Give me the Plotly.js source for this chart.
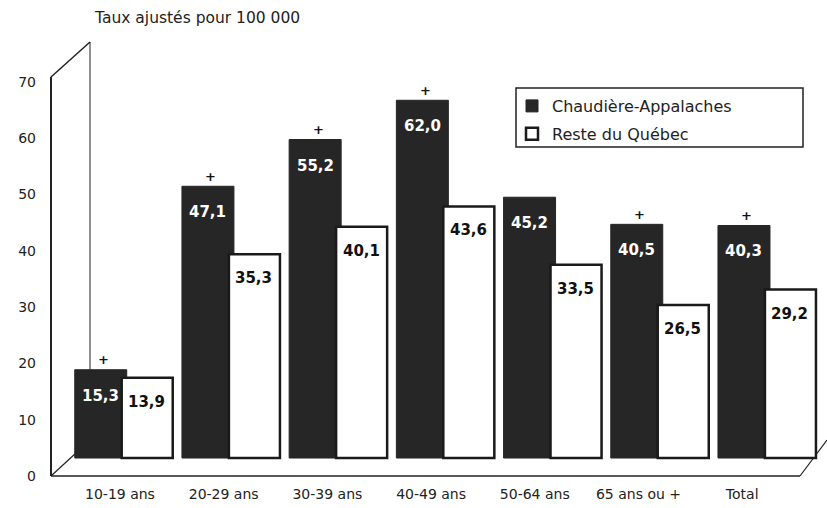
<!DOCTYPE html>
<html>
<head>
<meta charset="utf-8">
<script src="https://cdn.plot.ly/plotly-3.0.1.min.js"></script>
<style>html,body{margin:0;padding:0;background:#fff;}#chart{width:827px;height:508px;}</style>
</head>
<body>
<div id="chart"></div>
<script>
// ---- data ----
var categories = ["10-19 ans", "20-29 ans", "30-39 ans", "40-49 ans", "50-64 ans", "65 ans ou +", "Total"];
var chaudiereAppalaches = [15.3, 47.1, 55.2, 62.0, 45.2, 40.5, 40.3];
var resteQuebec = [13.9, 35.3, 40.1, 43.6, 33.5, 26.5, 29.2];
var significant = [true, true, true, true, false, true, true];
var seriesNames = ["Chaudière-Appalaches", "Reste du Québec"];
var yTicks = [0, 10, 20, 30, 40, 50, 60, 70];
var yTitle = "Taux ajustés pour 100 000";

// ---- geometry helpers (layout only) ----
var L = 51, R = 827, T = 42, B = 480, W = 827, H = 508;
function px(x) { return (x - L) / (R - L); }
function py(y) { return (B - y) / (B - T); }
function fmt(v) { return v.toFixed(1).replace('.', ','); }

var FONT = "DejaVu Sans, Liberation Sans, Arial, sans-serif";
var DARK = "#262626";

var traces = [
  {
    type: "bar", name: seriesNames[0], x: categories, y: chaudiereAppalaches,
    offset: -0.466, width: 0.485, legendgroup: "a",
    marker: { color: DARK, line: { color: DARK, width: 1 } },
    hoverinfo: "skip"
  },
  {
    type: "bar", name: seriesNames[1], x: categories, y: resteQuebec,
    offset: -0.028, width: 0.476, legendgroup: "b",
    marker: { color: "#ffffff", line: { color: "#1a1a1a", width: 2.5 } },
    hoverinfo: "skip"
  },
  // invisible trace carrying the front tick labels on xaxis2 / yaxis2
  {
    type: "scatter", x: categories, y: chaudiereAppalaches.map(function(){return null;}),
    xaxis: "x2", yaxis: "y2", showlegend: false, hoverinfo: "skip", mode: "markers"
  }
];

var annotations = [];
categories.forEach(function (c, i) {
  annotations.push({
    x: c, y: chaudiereAppalaches[i], xref: "x", yref: "y",
    text: "<b>" + fmt(chaudiereAppalaches[i]) + "</b>", showarrow: false,
    xshift: -24, yshift: -26, font: { family: FONT, size: 15, color: "#ffffff" }
  });
  annotations.push({
    x: c, y: resteQuebec[i], xref: "x", yref: "y",
    text: "<b>" + fmt(resteQuebec[i]) + "</b>", showarrow: false,
    xshift: 22, yshift: -24, font: { family: FONT, size: 15, color: "#111111" }
  });
  if (significant[i]) {
    annotations.push({
      x: c, y: chaudiereAppalaches[i], xref: "x", yref: "y",
      text: "<b>+</b>", showarrow: false,
      xshift: -21, yshift: 10, font: { family: FONT, size: 13, color: "#111111" }
    });
  }
});
annotations.push({
  x: px(92), y: py(18), xref: "paper", yref: "paper", xanchor: "left", yanchor: "middle",
  text: yTitle, showarrow: false, font: { family: FONT, size: 15.5, color: "#222" }
});

function line(x0, y0, x1, y1, w) {
  return { type: "line", xref: "paper", yref: "paper", layer: "below",
    x0: px(x0), y0: py(y0), x1: px(x1), y1: py(y1),
    line: { color: "#222", width: w || 1.5 } };
}
var shapes = [
  line(51, 476, 51, 77, 2),     // front left axis
  line(51, 77, 90, 42, 1.5),    // top diagonal
  line(90, 42, 90, 455, 1),     // back wall vertical
  line(51, 476, 76, 453, 1.2),  // bottom-left diagonal
  line(51, 476, 800, 476, 1.5), // floor front edge
  line(800, 476, 827, 440, 1.2),// floor right diagonal
  // legend frame
  { type: "rect", xref: "paper", yref: "paper", layer: "below",
    x0: px(516), y0: py(147), x1: px(803), y1: py(88),
    fillcolor: "#ffffff", line: { color: "#222", width: 1.5 } }
];

var layout = {
  width: W, height: H,
  margin: { l: L, r: W - R, t: T, b: H - B, pad: 0 },
  paper_bgcolor: "#ffffff", plot_bgcolor: "rgba(0,0,0,0)",
  font: { family: FONT, size: 14, color: "#222" },
  barmode: "overlay",
  showlegend: true,
  legend: {
    x: px(512), y: py(89), xanchor: "left", yanchor: "top",
    bgcolor: "rgba(0,0,0,0)", borderwidth: 0,
    font: { family: FONT, size: 16, color: "#222" },
    traceorder: "grouped", tracegroupgap: 4
  },
  xaxis: {
    type: "category", range: [-0.6875, 6.551], showticklabels: false,
    showgrid: false, zeroline: false, showline: false, ticks: ""
  },
  xaxis2: {
    type: "category", overlaying: "x", anchor: "y2", side: "bottom",
    range: [-0.665, 6.818], showgrid: false, zeroline: false, showline: false, ticks: "",
    tickfont: { family: FONT, size: 14, color: "#222" }, ticklabelstandoff: 4
  },
  yaxis: {
    range: [-3.81, 72.1], showticklabels: false, showgrid: false,
    zeroline: false, showline: false, ticks: ""
  },
  yaxis2: {
    overlaying: "y", side: "left", anchor: "x2",
    range: [-0.71, 77.1], tickmode: "array", tickvals: yTicks,
    ticktext: yTicks.map(String),
    showgrid: false, zeroline: false, showline: false, ticks: "",
    tickfont: { family: FONT, size: 14, color: "#222" }, ticklabelstandoff: 14
  },
  annotations: annotations,
  shapes: shapes
};

Plotly.newPlot("chart", traces, layout, { staticPlot: true, displayModeBar: false });
</script>
</body>
</html>
